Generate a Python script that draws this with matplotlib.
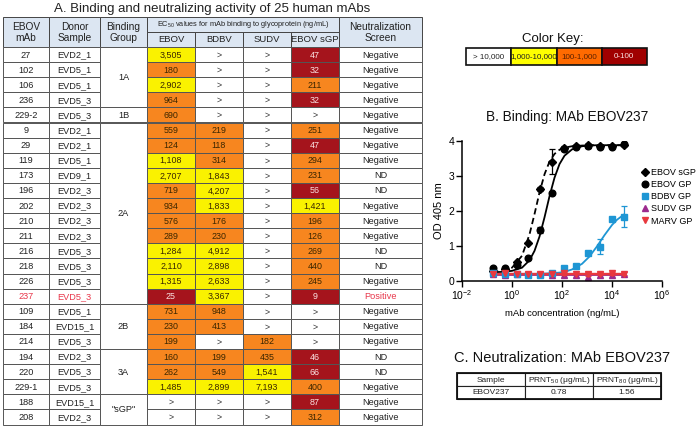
import matplotlib

matplotlib.use("Agg")
import matplotlib.pyplot as plt
from matplotlib.lines import Line2D
from matplotlib.patches import Rectangle
from matplotlib.ticker import FixedLocator, NullLocator

plt.rcParams["font.family"] = ["Liberation Sans", "DejaVu Sans"]
plt.rcParams["mathtext.default"] = "regular"
plt.rcParams["axes.unicode_minus"] = False

# ---------------- panel A data ----------------
mabs = ["27", "102", "106", "236", "229-2", "9", "29", "119", "173", "196",
        "202", "210", "211", "216", "218", "226", "237", "109", "184", "214",
        "194", "220", "229-1", "188", "208"]
donors = ["EVD2_1", "EVD5_1", "EVD5_1", "EVD5_3", "EVD5_3", "EVD2_1", "EVD2_1",
          "EVD5_1", "EVD9_1", "EVD2_3", "EVD2_3", "EVD2_3", "EVD2_3", "EVD5_3",
          "EVD5_3", "EVD5_3", "EVD5_3", "EVD5_1", "EVD15_1", "EVD5_3", "EVD2_3",
          "EVD5_3", "EVD5_3", "EVD15_1", "EVD2_3"]
group_names = ["1A", "1B", "2A", "2B", "3A", '"sGP"']
group_sizes = [4, 1, 12, 3, 3, 2]
ebov = [3505, 180, 2902, 964, 690, 559, 124, 1108, 2707, 719, 934, 576, 289,
        1284, 2110, 1315, 25, 731, 230, 199, 160, 262, 1485, None, None]
bdbv = [None, None, None, None, None, 219, 118, 314, 1843, 4207, 1833, 176, 230,
        4912, 2898, 2633, 3367, 948, 413, None, 199, 549, 2899, None, None]
sudv = [None, None, None, None, None, None, None, None, None, None, None, None,
        None, None, None, None, None, None, None, 182, 435, 1541, 7193, None, None]
ebov_sgp = [47, 32, 211, 32, None, 251, 47, 294, 231, 56, 1421, 196, 126, 269,
            440, 245, 9, None, None, None, 46, 66, 400, 87, 312]
neutral = ["Negative", "Negative", "Negative", "Negative", "Negative", "Negative",
           "Negative", "Negative", "ND", "ND", "Negative", "Negative", "Negative",
           "ND", "ND", "Negative", "Positive", "Negative", "Negative", "Negative",
           "ND", "ND", "Negative", "Negative", "Negative"]
highlight = "237"

key_labels = ["> 10,000", "1,000-10,000", "100-1,000", "0-100"]

# ---------------- panel B data ----------------
conc = [0.169, 0.508, 1.52, 4.57, 13.7, 41.2, 123, 370, 1111, 3333, 10000, 30000]
sgp_od = [0.28, 0.33, 0.55, 1.08, 2.63, 3.41, 3.80, 3.86, 3.88, 3.86, 3.85, 3.88]
sgp_err = [0, 0, 0, 0, 0.05, 0.36, 0.05, 0.04, 0, 0, 0, 0]
gp_od = [0.38, 0.36, 0.46, 0.67, 1.46, 2.51, 3.77, 3.83, 3.86, 3.83, 3.83, 3.91]
gp_err = [0, 0, 0, 0, 0.08, 0, 0, 0, 0.05, 0, 0, 0]
bdbv_od = [0.22, 0.19, 0.21, 0.17, 0.18, 0.24, 0.37, 0.44, 0.81, 0.98, 1.77, 1.83]
bdbv_err = [0, 0, 0, 0, 0, 0, 0, 0, 0, 0.22, 0, 0.30]
sudv_od = [0.20, 0.18, 0.20, 0.19, 0.19, 0.18, 0.17, 0.18, 0.12, 0.16, 0.18, 0.20]
marv_od = [0.21, 0.22, 0.21, 0.20, 0.21, 0.20, 0.22, 0.21, 0.20, 0.21, 0.22, 0.21]
marv_err = [0, 0, 0, 0, 0, 0, 0.04, 0, 0.05, 0.04, 0.04, 0.04]

# fitted curves
fit_x = [0.158, 0.398, 1.0, 2.51, 5.01, 7.94, 12.6, 20.0, 31.6, 50.1, 79.4,
         126, 251, 631, 1259, 2512, 5012, 10000, 15849, 30200]
fit_sgp = [0.26, 0.28, 0.38, 0.72, 1.33, 1.91, 2.53, 3.05, 3.41, 3.63, 3.75,
           3.81, 3.85, 3.87, 3.88, 3.88, 3.88, 3.88, 3.88, 3.88]
fit_gp = [0.25, 0.26, 0.29, 0.38, 0.59, 0.86, 1.27, 1.82, 2.42, 2.95, 3.34,
          3.58, 3.76, 3.85, 3.87, 3.88, 3.88, 3.88, 3.88, 3.88]
fit_bdbv = [0.20, 0.20, 0.20, 0.20, 0.20, 0.20, 0.20, 0.21, 0.22, 0.23, 0.24,
            0.26, 0.33, 0.49, 0.70, 0.99, 1.31, 1.60, 1.75, 1.90]
fit_sudv = [0.18] * 20
fit_marv = [0.21] * 20

# ---------------- panel C data ----------------
prnt_cols = ["Sample", "PRNT$_{50}$ (μg/mL)", "PRNT$_{80}$ (μg/mL)"]
prnt_row = ["EBOV237", "0.78", "1.56"]

# colours
YEL, ORA, DRED = "#FAF200", "#F7861F", "#A5141C"
KEY_C = ["white", "#FFFF00", "#FF6A00", "#A00000"]
HDR = "#DCE6F2"
RED_TXT = "#E8364A"


def heat(v):
    if v is None:
        return "white"
    if v < 100:
        return DRED
    if v < 1000:
        return ORA
    return YEL


W, H = 696, 426
fig = plt.figure(figsize=(W / 100, H / 100), dpi=100)
ov = fig.add_axes([0, 0, 1, 1])
ov.set_xlim(0, W)
ov.set_ylim(H, 0)
ov.axis("off")


def cell(x0, x1, y0, y1, fc="white", ec="#555", lw=0.7):
    ov.add_patch(Rectangle((x0, y0), x1 - x0, y1 - y0, fc=fc, ec=ec, lw=lw))


def txt(x, y, s, fs=6, color="#222", **kw):
    ov.text(x, y, s, ha="center", va="center", fontsize=fs, color=color, **kw)


# ---------------- panel A ----------------
cx = [3, 49, 100, 147, 195, 243, 291, 339, 422]
top, mid, y0, rh = 17, 32, 47, 15.1

txt(212, 9, "A. Binding and neutralizing activity of 25 human mAbs", fs=9.5)

# header
for i in (0, 1, 2, 7):
    cell(cx[i], cx[i + 1], top, y0, fc=HDR, ec="#444")
cell(cx[3], cx[7], top, mid, fc=HDR, ec="#444")
for i in range(3, 7):
    cell(cx[i], cx[i + 1], mid, y0, fc=HDR, ec="#444")
for i, s in zip((0, 1, 2, 7), ["EBOV\nmAb", "Donor\nSample", "Binding\nGroup",
                               "Neutralization\nScreen"]):
    txt((cx[i] + cx[i + 1]) / 2, (top + y0) / 2 + 0.5, s, fs=7.3, linespacing=1.05)
txt((cx[3] + cx[7]) / 2, (top + mid) / 2 + 0.5,
    "EC$_{50}$ values for mAb binding to glycoprotein (ng/mL)", fs=5.3)
for i, s in zip(range(3, 7), ["EBOV", "BDBV", "SUDV", "EBOV sGP"]):
    txt((cx[i] + cx[i + 1]) / 2, (mid + y0) / 2 + 0.5, s, fs=6.8)

# body
for r in range(len(mabs)):
    ya, yb = y0 + r * rh, y0 + (r + 1) * rh
    ym = (ya + yb) / 2 + 0.5
    tc = RED_TXT if mabs[r] == highlight else "#222"
    for i, s in ((0, mabs[r]), (1, donors[r])):
        cell(cx[i], cx[i + 1], ya, yb)
        txt((cx[i] + cx[i + 1]) / 2, ym, s, fs=6.6, color=tc)
    for i, v in zip(range(3, 7), (ebov[r], bdbv[r], sudv[r], ebov_sgp[r])):
        fc = heat(v)
        cell(cx[i], cx[i + 1], ya, yb, fc=fc)
        s = ">" if v is None else f"{v:,}"
        c = "#FBE3E3" if fc == DRED else ("#3A2600" if v is not None else "#333")
        txt((cx[i] + cx[i + 1]) / 2, ym, s, fs=6.4, color=c)
    cell(cx[7], cx[8], ya, yb)
    nc = RED_TXT if neutral[r] == "Positive" else "#222"
    txt((cx[7] + cx[8]) / 2, ym, neutral[r], fs=6.6, color=nc)

r0 = 0
for g, n in zip(group_names, group_sizes):
    ya, yb = y0 + r0 * rh, y0 + (r0 + n) * rh
    cell(cx[2], cx[3], ya, yb)
    txt((cx[2] + cx[3]) / 2, (ya + yb) / 2 + 0.5, g, fs=6.6)
    r0 += n

# ---------------- color key ----------------
txt(553, 39, "Color Key:", fs=9.5, color="#111")
kx0, kw = 466, 45.25
for k, (lab, fc) in enumerate(zip(key_labels, KEY_C)):
    cell(kx0 + k * kw, kx0 + (k + 1) * kw, 48, 65, fc=fc, ec="#111", lw=1.2)
    tc = "#FBE3E3" if k == 3 else ("#5A2000" if k == 2 else "#222")
    txt(kx0 + (k + 0.5) * kw, 57, lab, fs=5.8, color=tc)

# ---------------- panel B ----------------
txt(567, 117, "B. Binding: MAb EBOV237", fs=9.8, color="#111")
ax = fig.add_axes([462 / W, (H - 281) / H, 200 / W, 140 / H])
ax.set_xscale("log")
ax.set_xlim(1e-2, 1e6)
ax.set_ylim(0, 4)

BLUE, PURP, MRED = "#1E96D4", "#9C2A8E", "#E8383E"
ax.plot(fit_x, fit_sgp, color="black", lw=1.3, ls=(0, (3.5, 2)))
ax.plot(fit_x, fit_gp, color="black", lw=1.3)
ax.plot(fit_x, fit_bdbv, color=BLUE, lw=1.3)
ax.plot(fit_x, fit_sudv, color=PURP, lw=1.3)
ax.plot(fit_x, fit_marv, color=MRED, lw=1.7)

ax.errorbar(conc, sgp_od, yerr=sgp_err, fmt="D", ms=3.6, color="black",
            capsize=2.5, elinewidth=0.9, capthick=0.9)
ax.errorbar(conc, gp_od, yerr=gp_err, fmt="o", ms=4.8, color="black",
            capsize=2.5, elinewidth=0.9, capthick=0.9)
ax.errorbar(conc, bdbv_od, yerr=bdbv_err, fmt="s", ms=4.3, color=BLUE,
            capsize=2.5, elinewidth=0.9, capthick=0.9)
ax.plot(conc, sudv_od, "^", ms=4.0, color=PURP, ls="none")
ax.errorbar(conc, marv_od, yerr=marv_err, fmt="v", ms=4.0, color=MRED,
            capsize=2.0, elinewidth=0.9, capthick=0.9)

ax.xaxis.set_major_locator(FixedLocator([1e-2, 1e0, 1e2, 1e4, 1e6]))
ax.xaxis.set_minor_locator(NullLocator())
ax.set_yticks([0, 1, 2, 3, 4])
for s in ("top", "right"):
    ax.spines[s].set_visible(False)
for s in ("left", "bottom"):
    ax.spines[s].set_linewidth(1.1)
ax.tick_params(direction="out", length=4, width=1.0, labelsize=7.5, pad=1.5)
ax.set_ylabel("OD 405 nm", fontsize=8, labelpad=3)
ax.set_xlabel("mAb concentration (ng/mL)", fontsize=6.8, labelpad=5)

handles = [
    Line2D([], [], marker="D", ms=3.6, color="black", ls="none"),
    Line2D([], [], marker="o", ms=4.8, color="black", ls="none"),
    Line2D([], [], marker="s", ms=4.3, color=BLUE, ls="none"),
    Line2D([], [], marker="^", ms=4.0, color=PURP, ls="none"),
    Line2D([], [], marker="v", ms=4.0, color=MRED, ls="none"),
]
fig.legend(handles, ["EBOV sGP", "EBOV GP", "BDBV GP", "SUDV GP", "MARV GP"],
           loc="upper left", bbox_to_anchor=(641 / W, 1 - 168 / H),
           frameon=False, fontsize=6.5, handlelength=0.8, handletextpad=0.3,
           labelspacing=0.35, borderaxespad=0, borderpad=0)

# ---------------- panel C ----------------
txt(562, 358, "C. Neutralization: MAb EBOV237", fs=10.5, color="#111")
tx = [457, 525, 593, 661]
ty = [373, 386, 399]
for j in range(3):
    cell(tx[j], tx[j + 1], ty[0], ty[1], ec="#222", lw=0.8)
    cell(tx[j], tx[j + 1], ty[1], ty[2], ec="#222", lw=0.8)
    txt((tx[j] + tx[j + 1]) / 2, (ty[0] + ty[1]) / 2 + 0.5, prnt_cols[j], fs=6)
    txt((tx[j] + tx[j + 1]) / 2, (ty[1] + ty[2]) / 2 + 0.5, prnt_row[j], fs=6)
ov.add_patch(Rectangle((tx[0], ty[0]), tx[-1] - tx[0], ty[-1] - ty[0],
                       fc="none", ec="#111", lw=1.3))

fig.savefig("out.png", dpi=100)
